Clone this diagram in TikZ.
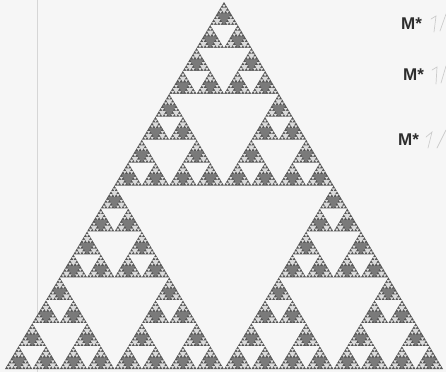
\documentclass[tikz,border=0pt]{standalone}
\usepackage{fontspec}
\setsansfont{Liberation Sans}
\definecolor{bg}{HTML}{F6F6F6}
\definecolor{tri}{HTML}{555555}
\definecolor{dotsA}{HTML}{7A7A7A}
\definecolor{dotsB}{HTML}{DADADA}
\definecolor{vline}{HTML}{D6D6D6}
\definecolor{mtext}{HTML}{2E2E2E}
% apex x, apex y, width, height, depth
\def\sierp#1#2#3#4#5{%
  \ifnum#5>2\relax\def\holecol{bg}\else
    \ifnum#5=2\relax\def\holecol{dotsA}\else\def\holecol{dotsB}\fi\fi
  \fill[\holecol] (#1-#3/4,#2+#4/2) -- (#1+#3/4,#2+#4/2) -- (#1,#2+#4) -- cycle;
  \ifnum#5>0\relax
    \begingroup
    \pgfmathsetmacro\sw{#3/2}\pgfmathsetmacro\sh{#4/2}%
    \pgfmathsetmacro\sxl{#1-#3/4}\pgfmathsetmacro\sxr{#1+#3/4}%
    \pgfmathsetmacro\sy{#2+#4/2}%
    \pgfmathtruncatemacro\sd{#5-1}%
    \edef\snext{\noexpand\sierp{#1}{#2}{\sw}{\sh}{\sd}%
      \noexpand\sierp{\sxl}{\sy}{\sw}{\sh}{\sd}%
      \noexpand\sierp{\sxr}{\sy}{\sw}{\sh}{\sd}}%
    \expandafter\endgroup\snext
  \fi}
\begin{document}
\begin{tikzpicture}[x=1pt,y=-1pt,
  mlabel/.style={font=\sffamily\bfseries\fontsize{17}{17}\selectfont,text=mtext,inner sep=0pt,anchor=west},
  scrib/.style={draw=gray!40,line width=0.7pt,line cap=round}]
\fill[bg] (0,0) rectangle (446,372);
\useasboundingbox (0,0) rectangle (446,372);
\draw[vline,line width=0.8pt] (37,0) -- (37,372);
% Sierpinski triangle
\coordinate (apex) at (224,2);
\coordinate (bl) at (5,369);
\coordinate (br) at (443,369);
\fill[tri] (apex) -- (bl) -- (br) -- cycle;
\sierp{224}{2}{438}{367}{6}
% labels
\node[mlabel] (m1) at (401,24) {M*};
\node[mlabel] (m2) at (403,75) {M*};
\node[mlabel] (m3) at (398,140) {M*};
\draw[scrib] (431,19) -- (436,16) -- (434,32);
\draw[scrib] (446,14) -- (440,31);
\draw[scrib] (432,70) -- (437,67) -- (436,84);
\draw[scrib] (446,66) -- (441,83);
\draw[scrib] (426,137) -- (432,132) -- (428,148);
\draw[scrib] (446,130) -- (437,148);
\end{tikzpicture}
\end{document}
